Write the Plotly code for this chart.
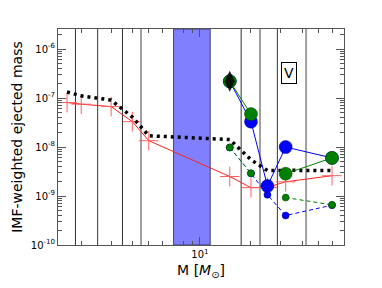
import numpy as np
import plotly.graph_objects as go

# masses
m_low = [1.65, 2, 3, 4, 5, 15, 20, 25, 32, 60]
red_y = [8.1e-8, 7.5e-8, 6.7e-8, 3.3e-8, 1.35e-8, 2.5e-9, 1.48e-9, 1.5e-9, 1.95e-9, 2.6e-9]
black_y = [1.33e-7, 1.11e-7, 9.1e-8, 4.1e-8, 1.7e-8, 1.42e-8, 5.5e-9, 3.3e-9, 3.35e-9, 3.3e-9]

m_high = [15, 20, 25, 32, 60]
blue_big = [2.2e-7, 3.3e-8, 1.6e-9, 1.0e-8, 6.0e-9]
green_big = [2.2e-7, 4.7e-8, None, 2.85e-9, 6.0e-9]
blue_small = [9.8e-9, 2.9e-9, 1.06e-9, 4.0e-10, 6.5e-10]
green_small = [9.8e-9, 2.9e-9, None, 9.3e-10, 6.6e-10]
diamond_m = [15]
diamond_y = [2.2e-7]

dark_lines = [1.85, 2.5, 3.5, 17.5, 28.6]
gray_lines = [4.5, 22.6, 42.2]
band = [7.0, 11.5]

label_m = [33.5]
label_y = [3.3e-7]
label_txt = ["V"]

x_major = [10]
x_major_txt = ["10<sup>1</sup>"]
x_minor = [2, 3, 4, 5, 6, 7, 8, 9, 20, 30, 40, 50, 60]
y_major = [1e-10, 1e-9, 1e-8, 1e-7, 1e-6]
y_major_txt = ["10<sup>-10</sup>", "10<sup>-9</sup>", "10<sup>-8</sup>", "10<sup>-7</sup>", "10<sup>-6</sup>"]
y_minor = [k * 10.0 ** e for e in range(-10, -5) for k in range(2, 10)]

fig = go.Figure()

shapes = []
shapes.append(dict(type="rect", xref="x", yref="paper", x0=band[0], x1=band[1], y0=0, y1=1,
                   fillcolor="#8080ff", line=dict(color="#40407a", width=1), layer="below"))
for v in dark_lines:
    shapes.append(dict(type="line", xref="x", yref="paper", x0=v, x1=v, y0=0, y1=1,
                       line=dict(color="#333333", width=1), layer="below"))
for v in gray_lines:
    shapes.append(dict(type="line", xref="x", yref="paper", x0=v, x1=v, y0=0, y1=1,
                       line=dict(color="#a0a0a0", width=2), layer="below"))

fig.add_trace(go.Scatter(x=m_low, y=red_y, mode="lines+markers",
                         line=dict(color="#ff2020", width=1),
                         marker=dict(symbol="cross-thin", size=14, line=dict(color="#ff6060", width=1))))
fig.add_trace(go.Scatter(x=m_low, y=black_y, mode="lines",
                         line=dict(color="black", width=3.5, dash="3px,4px")))

fig.add_trace(go.Scatter(x=m_high, y=blue_small, mode="lines+markers",
                         line=dict(color="#0000ff", width=1, dash="4px,3px"),
                         marker=dict(color="#0000ff", size=7, line=dict(color="#000080", width=0.5))))
fig.add_trace(go.Scatter(x=m_high, y=green_small, mode="lines+markers",
                         line=dict(color="#008000", width=1, dash="4px,3px"),
                         marker=dict(color="#008000", size=7, line=dict(color="#004000", width=0.5))))
fig.add_trace(go.Scatter(x=m_high, y=blue_big, mode="lines+markers",
                         line=dict(color="#0000ff", width=1),
                         marker=dict(color="#0000ff", size=13, line=dict(color="#000080", width=0.5))))
fig.add_trace(go.Scatter(x=m_high, y=green_big, mode="lines+markers",
                         line=dict(color="#008000", width=1),
                         marker=dict(color="#008000", size=13, line=dict(color="#004000", width=0.5))))
fig.add_trace(go.Scatter(x=diamond_m, y=diamond_y, mode="markers",
                         marker=dict(symbol="diamond-tall", color="rgba(0,0,0,0.85)", size=15,
                                     line=dict(color="black", width=0))))

for xm, ym, t in zip(label_m, label_y, label_txt):
    fig.add_annotation(x=np.log10(xm), y=np.log10(ym), text=t, showarrow=False,
                       font=dict(size=14, color="black", family="DejaVu Sans"),
                       bordercolor="black", borderwidth=1, borderpad=2, bgcolor="white")

# page body has an 8px margin, so shift the figure up/left by 8px
fig.update_layout(
    width=382, height=288, autosize=False,
    margin=dict(l=50, r=46, t=21, b=51, pad=0, autoexpand=False),
    paper_bgcolor="white", plot_bgcolor="white",
    showlegend=False, shapes=shapes,
    font=dict(family="DejaVu Sans", size=10, color="black"),
)
fig.update_xaxes(type="log", range=[np.log10(1.46), np.log10(70.6)], automargin=False,
                 showgrid=False, zeroline=False, showline=True, linecolor="#555555", linewidth=1,
                 mirror="allticks", ticks="inside", ticklen=8, tickcolor="#555555",
                 tickmode="array", tickvals=x_major, ticktext=x_major_txt,
                 minor=dict(tickmode="array", tickvals=x_minor, ticks="inside", ticklen=4,
                            tickcolor="#555555", showgrid=False),
                 title=dict(text="M [<i>M</i><sub>⊙</sub>]", font=dict(size=14), standoff=6),
                 tickfont=dict(size=10))
fig.update_yaxes(type="log", range=[-10, -5.59], automargin=False,
                 showgrid=False, zeroline=False, showline=True, linecolor="#555555", linewidth=1,
                 mirror="allticks", ticks="inside", ticklen=8, tickcolor="#555555",
                 tickmode="array", tickvals=y_major, ticktext=y_major_txt,
                 minor=dict(tickmode="array", tickvals=y_minor, ticks="inside", ticklen=4,
                            tickcolor="#555555", showgrid=False),
                 title=dict(text="IMF-weighted ejected mass", font=dict(size=14), standoff=4),
                 tickfont=dict(size=10))

fig.write_html("out.html")
